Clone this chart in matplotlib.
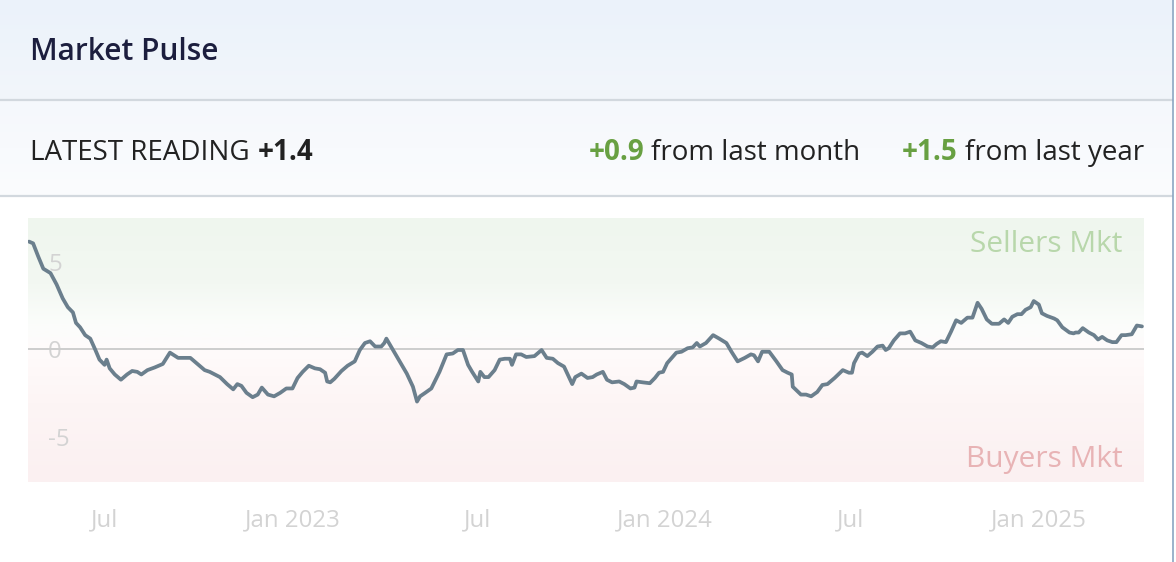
import datetime as dt
import numpy as np
import matplotlib
matplotlib.use("Agg")
import matplotlib.pyplot as plt
import matplotlib.dates as mdates
from matplotlib.colors import LinearSegmentedColormap

plt.rcParams['font.family'] = ['Open Sans', 'DejaVu Sans']

# ---- data ----
start_date = dt.date(2022, 4, 18)
day_offsets = [
    0, 4, 9, 14, 21, 27, 33, 38, 43, 46, 50, 55, 60, 65, 69, 74, 76, 79, 84, 90,
    96, 101, 106, 110, 116, 123, 131, 138, 146, 158, 162, 172, 177, 187, 194, 200,
    204, 208, 213, 219, 224, 228, 234, 240, 246, 252, 258, 263, 268, 274, 280, 285,
    290, 292, 295, 299, 306, 312, 319, 324, 329, 334, 339, 345, 348, 350, 355, 363,
    370, 376, 380, 383, 388, 394, 402, 409, 415, 420, 425, 430, 434, 440, 442, 446,
    450, 456, 461, 466, 471, 473, 477, 482, 487, 495, 502, 507, 513, 518, 524, 532,
    535, 541, 547, 552, 556, 562, 566, 571, 578, 583, 589, 593, 595, 601, 608, 613,
    617, 621, 625, 634, 639, 645, 650, 654, 657, 663, 670, 676, 683, 688, 694, 701,
    707, 710, 714, 718, 725, 732, 738, 743, 747, 748, 756, 761, 766, 772, 777, 782,
    789, 797, 803, 806, 808, 813, 816, 821, 826, 831, 836, 839, 842, 847, 853, 858,
    863, 868, 874, 880, 885, 889, 893, 898, 903, 908, 913, 919, 924, 929, 933, 938,
    943, 950, 955, 959, 963, 968, 972, 976, 981, 984, 989, 992, 997, 1004, 1007,
    1012, 1019, 1023, 1025, 1028, 1032, 1038, 1043, 1047, 1051, 1056, 1061, 1065,
    1070, 1074, 1080, 1085, 1090,
]
pulse = [
    6.15, 6.05, 5.3, 4.6, 4.35, 3.7, 2.9, 2.4, 2.1, 1.5, 1.25, 0.8, 0.6, -0.05, -0.6,
    -0.9, -0.6, -1.1, -1.45, -1.75, -1.45, -1.25, -1.3, -1.45, -1.2, -1.05, -0.85,
    -0.2, -0.5, -0.5, -0.7, -1.2, -1.3, -1.6, -2.0, -2.3, -2.0, -2.1, -2.5, -2.75,
    -2.6, -2.2, -2.6, -2.7, -2.5, -2.25, -2.25, -1.65, -1.3, -0.95, -1.1, -1.15,
    -1.35, -1.85, -1.9, -1.7, -1.25, -0.95, -0.7, -0.05, 0.35, 0.45, 0.15, 0.15,
    0.35, 0.6, 0.1, -0.7, -1.4, -2.15, -3.0, -2.7, -2.5, -2.25, -1.3, -0.3, -0.25,
    -0.05, -0.05, -0.9, -1.3, -1.85, -1.3, -1.6, -1.6, -1.2, -0.6, -0.55, -0.55,
    -0.9, -0.3, -0.3, -0.45, -0.4, -0.05, -0.5, -0.55, -0.8, -1.0, -2.0, -1.6, -1.4,
    -1.65, -1.6, -1.45, -1.3, -1.75, -1.9, -1.85, -2.0, -2.25, -2.2, -1.85, -1.9,
    -1.95, -1.65, -1.35, -1.3, -0.8, -0.2, -0.15, 0.05, 0.1, 0.35, 0.15, 0.35, 0.8,
    0.6, 0.35, -0.15, -0.7, -0.5, -0.3, -0.35, -0.7, -0.15, -0.15, -0.7, -1.2,
    -1.35, -1.45, -2.15, -2.6, -2.6, -2.7, -2.45, -2.05, -2.0, -1.65, -1.2, -1.35,
    -1.35, -0.8, -0.25, -0.2, -0.4, -0.15, 0.15, 0.2, -0.05, 0.05, 0.5, 0.9, 0.9,
    1.0, 0.5, 0.35, 0.15, 0.1, 0.3, 0.45, 0.4, 1.0, 1.65, 1.5, 1.8, 1.8, 2.65, 2.3,
    1.7, 1.45, 1.45, 1.7, 1.5, 1.85, 2.0, 2.0, 2.25, 2.4, 2.75, 2.55, 2.05, 1.9,
    1.75, 1.65, 1.25, 0.95, 0.9, 0.95, 0.95, 1.2, 0.95, 0.8, 0.55, 0.7, 0.5, 0.4,
    0.4, 0.8, 0.8, 0.85, 1.35, 1.3,
]
dates = [start_date + dt.timedelta(days=d) for d in day_offsets]

tick_dates = [dt.date(2022, 7, 1), dt.date(2023, 1, 1), dt.date(2023, 7, 1),
              dt.date(2024, 1, 1), dt.date(2024, 7, 1), dt.date(2025, 1, 1)]
tick_labels = ['Jul', 'Jan 2023', 'Jul', 'Jan 2024', 'Jul', 'Jan 2025']
y_ticks = [-5, 0, 5]
y_tick_labels = ['-5', '0', '5']

latest = '+1.4'
month_change = '+0.9'
year_change = '+1.5'

# ---- figure ----
W, H = 1176, 562
fig = plt.figure(figsize=(W / 100, H / 100), dpi=100)
fig.patch.set_facecolor('white')

# background layer in pixel coordinates
bg = fig.add_axes([0, 0, 1, 1])
band1 = LinearSegmentedColormap.from_list('b1', ['#ebf2fa', '#f2f6fb'])
band2 = LinearSegmentedColormap.from_list('b2', ['#f5f8fc', '#fbfcfe'])
grad = np.linspace(0, 1, 100).reshape(-1, 1)
bg.imshow(grad, extent=(0, 1172, 100, 0), cmap=band1, aspect='auto')
bg.imshow(grad, extent=(0, 1172, 196, 100), cmap=band2, aspect='auto')
bg.plot([0, 1172], [100, 100], color='#d2d8de', lw=1.6)
bg.plot([0, 1172], [196, 196], color='#d2d8de', lw=1.6)
bg.plot([1173, 1173], [0, H], color='#8aa5c2', lw=1.2)
bg.set_xlim(0, W)
bg.set_ylim(H, 0)
bg.axis('off')

green = '#68a042'
dark = '#222222'

bg.text(30, 60, 'Market Pulse', fontsize=21.5, fontweight='semibold',
        color='#1c1e3e', va='baseline', ha='left')

t1 = bg.text(30, 160, 'LATEST READING', fontsize=20, color=dark,
             va='baseline', ha='left')
bg.annotate(latest, xy=(1, 160), xycoords=(t1, 'data'), xytext=(8, 0),
            textcoords='offset pixels', fontsize=20, fontweight='bold',
            color=dark, va='baseline', ha='left')

t_year = bg.text(1144, 160, 'from last year', fontsize=20, color=dark,
                 va='baseline', ha='right')
t_y = bg.annotate(year_change, xy=(0, 160), xycoords=(t_year, 'data'),
                  xytext=(-7, 0), textcoords='offset pixels', fontsize=20,
                  fontweight='bold', color=green, va='baseline', ha='right')
t_month = bg.annotate('from last month', xy=(0, 160), xycoords=(t_y, 'data'),
                      xytext=(-42, 0), textcoords='offset pixels', fontsize=20,
                      color=dark, va='baseline', ha='right')
bg.annotate(month_change, xy=(0, 160), xycoords=(t_month, 'data'),
            xytext=(-7, 0), textcoords='offset pixels', fontsize=20,
            fontweight='bold', color=green, va='baseline', ha='right')

# chart
ax = fig.add_axes([28 / W, 1 - 482 / H, 1116 / W, 264 / H])
ax.plot(dates, pulse, color='#6b7f8d', lw=2.7, zorder=3,
        solid_joinstyle='round', solid_capstyle='round')
ax.axhline(0, color='#cdcdcd', lw=1.4, zorder=2)

ymin, ymax = -7.6, 7.5
x0 = mdates.date2num(dt.date(2022, 4, 17))
x1 = mdates.date2num(dt.date(2025, 4, 14))
zone_cmap = LinearSegmentedColormap.from_list('zone', [
    (0.0, '#fbf0f1'),
    (0.3, '#fdf5f5'),
    (0.5, '#fffbfb'),
    (0.6, '#fbfdfb'),
    (0.75, '#f3f8f2'),
    (1.0, '#eff6ee'),
])
ax.imshow(np.linspace(0, 1, 200).reshape(-1, 1), extent=(x0, x1, ymin, ymax),
          origin='lower', aspect='auto', cmap=zone_cmap, zorder=0)

ax.set_xlim(x0, x1)
ax.set_ylim(ymin, ymax)
for s in ax.spines.values():
    s.set_visible(False)

ax.set_xticks(mdates.date2num(tick_dates))
ax.set_xticklabels(tick_labels)
ax.set_yticks(y_ticks)
ax.set_yticklabels(y_tick_labels)
ax.tick_params(axis='x', length=0, pad=19, labelsize=17.3, labelcolor='#d3d3d3')
ax.tick_params(axis='y', length=0, pad=-14.4, labelsize=17.3, labelcolor='#d3d3d3')
for lbl in ax.get_yticklabels():
    lbl.set_horizontalalignment('left')

ax.text(0.981, 0.871, 'Sellers Mkt', transform=ax.transAxes, fontsize=21.5,
        color='#b8d7ab', ha='right', va='baseline', zorder=4)
ax.text(0.981, 0.057, 'Buyers Mkt', transform=ax.transAxes, fontsize=21.5,
        color='#e8b3b5', ha='right', va='baseline', zorder=4)

fig.savefig('out.png', dpi=100)
